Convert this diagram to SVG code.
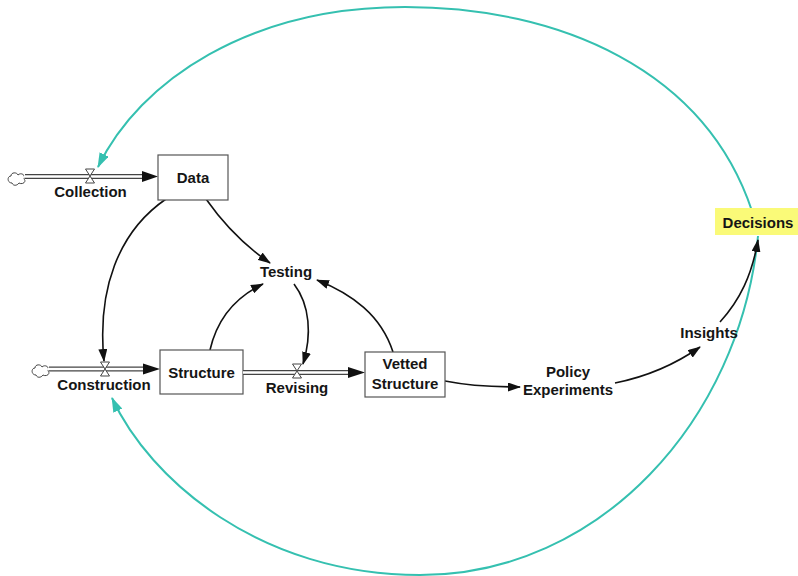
<svg xmlns="http://www.w3.org/2000/svg" width="798" height="576" viewBox="0 0 798 576">
<defs>
<marker id="ah" markerUnits="userSpaceOnUse" markerWidth="13" markerHeight="9" refX="12" refY="4.5" orient="auto"><path d="M0,0 L13,4.5 L0,9 z" fill="#111"/></marker>
<marker id="th" markerUnits="userSpaceOnUse" markerWidth="15" markerHeight="10" refX="14" refY="5" orient="auto"><path d="M0,0 L15,5 L0,10 z" fill="#35c0b0"/></marker>
<style>
.t{font-family:"Liberation Sans",Arial,sans-serif;font-weight:bold;font-size:15px;fill:#151515;text-anchor:middle}
.box{fill:#fff;stroke:#555;stroke-width:1.2}
.c{fill:none;stroke:#111;stroke-width:1.6;marker-end:url(#ah)}
.tl{fill:none;stroke:#35c0b0;stroke-width:2;marker-end:url(#th)}
.po{stroke:#444;stroke-width:5;fill:none}
.pi{stroke:#fff;stroke-width:2.6;fill:none}
.v{fill:#fff;stroke:#444;stroke-width:1}
.cl{fill:#fff;stroke:#444;stroke-width:1}
</style>
</defs>
<g id="connectors">
<path class="tl" d="M752,211 C705,70 560,7 405,7 C250,7 140,80 98,167"/>
<path class="tl" d="M758,236 C740,420 600,575 420,575 C260,575 150,480 112,398"/>
<path class="c" d="M166,199 C118,232 97,290 104,361"/>
<path class="c" d="M206,199 C225,226 245,246 270,263"/>
<path class="c" d="M210,350 C218,315 240,295 263,284"/>
<path class="c" d="M294,284 C310,305 312,335 303,364"/>
<path class="c" d="M393,352 C381,315 352,294 317,280"/>
<path class="c" d="M445,381 C470,386 495,387 520,387"/>
<path class="c" d="M615,383 C650,376 680,361 700,347"/>
<path class="c" d="M720,322 C740,300 752,275 758,240"/>
</g>
<g id="collection">
<path class="cl" d="M12,183 C7,183 7,176 11,176 C11,172 17,172 18,175 C21,172 26,175 24,179 C27,182 22,185 19,183 C17,186 13,186 12,183 z"/>
<line class="po" x1="25" y1="176.5" x2="146" y2="176.5"/>
<line class="pi" x1="24" y1="176.5" x2="147" y2="176.5"/>
<path d="M142,171 L158,176.5 L142,182 z" fill="#111"/>
<path class="v" d="M85.5,169 L94.5,169 L85.5,183 L94.5,183 z"/>
<text class="t" x="90.5" y="197">Collection</text>
</g>
<g id="data">
<rect class="box" x="158" y="155" width="70" height="45"/>
<text class="t" x="193" y="183">Data</text>
</g>
<g id="construction">
<path class="cl" d="M36,375 C31,375 31,368 35,368 C35,364 41,364 42,367 C45,364 50,367 48,371 C51,374 46,377 43,375 C41,378 37,378 36,375 z"/>
<line class="po" x1="49" y1="369" x2="146" y2="369"/>
<line class="pi" x1="48" y1="369" x2="147" y2="369"/>
<path d="M143,363.5 L160,369 L143,374.5 z" fill="#111"/>
<path class="v" d="M100.5,362 L109.5,362 L100.5,376 L109.5,376 z"/>
<text class="t" x="104" y="390">Construction</text>
</g>
<g id="structure">
<rect class="box" x="160" y="350" width="83" height="44"/>
<text class="t" x="201.5" y="378">Structure</text>
</g>
<g id="revising">
<line class="po" x1="243" y1="372.5" x2="350" y2="372.5"/>
<line class="pi" x1="243" y1="372.5" x2="351" y2="372.5"/>
<path d="M348,367 L365,372.5 L348,378 z" fill="#111"/>
<path class="v" d="M292.5,364 L301.5,364 L292.5,378 L301.5,378 z"/>
<text class="t" x="297" y="393">Revising</text>
</g>
<g id="vetted">
<rect class="box" x="365" y="352" width="80" height="45"/>
<text class="t" x="405" y="369">Vetted</text>
<text class="t" x="405" y="389">Structure</text>
</g>
<g id="testing"><text class="t" x="286" y="277">Testing</text></g>
<g id="policy">
<text class="t" x="568" y="377">Policy</text>
<text class="t" x="568" y="395">Experiments</text>
</g>
<g id="insights"><text class="t" x="709" y="338">Insights</text></g>
<g id="decisions">
<rect x="715" y="208" width="83" height="27" fill="#fafa78"/>
<text class="t" x="758" y="228">Decisions</text>
</g>
</svg>
